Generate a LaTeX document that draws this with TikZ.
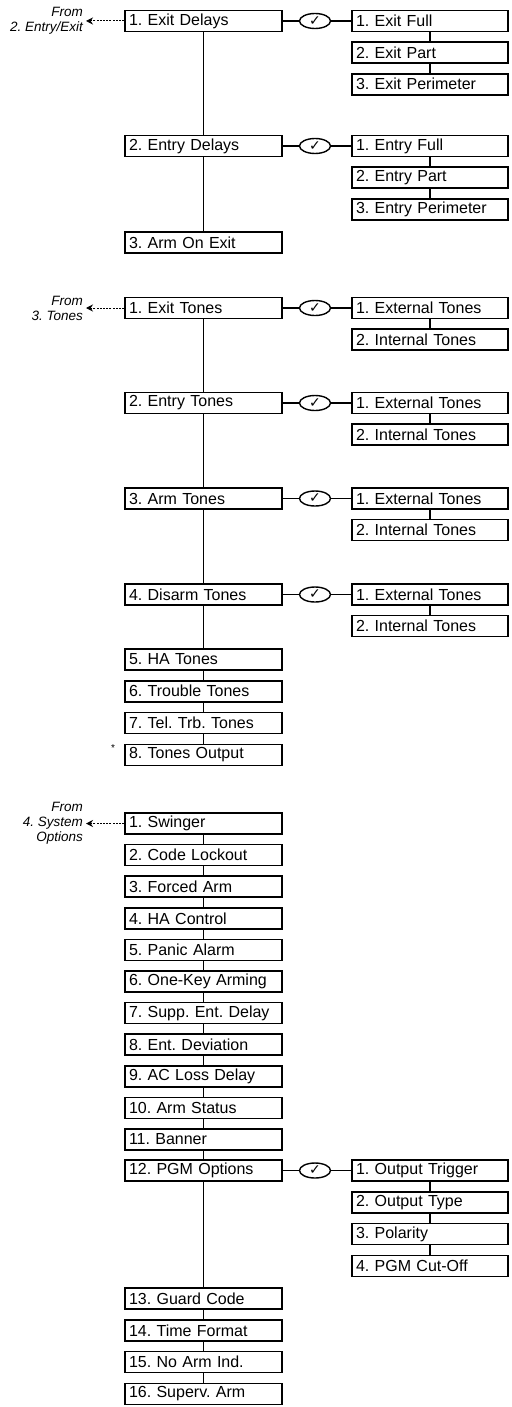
\documentclass[tikz,border=0pt]{standalone}
\usepackage{fontspec}
\setmainfont{Liberation Sans}
\newfontfamily\tickfont{DejaVu Sans}
\usetikzlibrary{arrows.meta,shapes.geometric}
\frenchspacing
\begin{document}
\begin{tikzpicture}[x=1pt,y=-1pt,line cap=butt,line join=miter,
  mainbox/.style={draw,line width=1.7pt,fill=white,minimum height=21pt,text width=149pt,
    inner xsep=4pt,inner ysep=0pt,align=left,font=\fontsize{16}{17}\selectfont},
  subbox/.style={mainbox,text width=148pt},
  tick/.style={draw,ellipse,line width=1.4pt,minimum width=31pt,minimum height=15pt,
    inner sep=0pt,font=\tickfont\fontsize{14}{14}\selectfont},
  link/.style={line width=1.6pt},
  fromlbl/.style={align=right,inner xsep=3pt,inner ysep=0pt,font=\itshape\fontsize{13.5}{15}\selectfont},
  backarrow/.style={line width=1pt,dash pattern=on 2pt off 1.2pt,-{Stealth[length=7pt,width=7pt]}}]
  \useasboundingbox (0,0) rectangle (511,1407);

  % --- entry/exit delays
  \node[mainbox] (exitdly) at (203.5,21) {1. Exit Delays};
  \node[mainbox] (entrydly) at (203.5,146) {2. Entry Delays};
  \node[mainbox] (armexit) at (203.5,242.5) {3. Arm On Exit};
  \node[tick] (tickA) at (315,21) {✓};
  \node[tick] (tickB) at (315,146) {✓};
  \node[subbox] (exfull) at (430,21) {1. Exit Full};
  \node[subbox] (expart) at (430,52.6) {2. Exit Part};
  \node[subbox] (experim) at (430,84.2) {3. Exit Perimeter};
  \node[subbox] (enfull) at (430,146) {1. Entry Full};
  \node[subbox] (enpart) at (430,177.6) {2. Entry Part};
  \node[subbox] (enperim) at (430,209.2) {3. Entry Perimeter};
  \node[fromlbl,anchor=east] (fromA) at (86,21) {From\\2. Entry/Exit};

  % --- tones
  \node[mainbox] (exitton) at (203.5,308) {1. Exit Tones};
  \node[mainbox] (entryton) at (203.5,403) {2. Entry Tones};
  \node[mainbox] (armton) at (203.5,498.5) {3. Arm Tones};
  \node[mainbox] (disarmton) at (203.5,594.5) {4. Disarm Tones};
  \node[mainbox] (haton) at (203.5,659.5) {5. HA Tones};
  \node[mainbox] (trbton) at (203.5,691.2) {6. Trouble Tones};
  \node[mainbox] (telton) at (203.5,723) {7. Tel. Trb. Tones};
  \node[mainbox] (tonesout) at (203.5,755) {8. Tones Output};
  \node[font=\fontsize{10}{10}\selectfont] (star) at (113,748) {*};
  \node[tick] (tickC) at (315,308) {✓};
  \node[tick] (tickD) at (315,403) {✓};
  \node[tick] (tickE) at (315,498.5) {✓};
  \node[tick] (tickF) at (315,594.5) {✓};
  \node[subbox] (exext) at (430,308) {1. External Tones};
  \node[subbox] (exint) at (430,339.6) {2. Internal Tones};
  \node[subbox] (enext) at (430,403) {1. External Tones};
  \node[subbox] (enint) at (430,434.6) {2. Internal Tones};
  \node[subbox] (arext) at (430,498.5) {1. External Tones};
  \node[subbox] (arint) at (430,530.1) {2. Internal Tones};
  \node[subbox] (diext) at (430,594.5) {1. External Tones};
  \node[subbox] (diint) at (430,626.1) {2. Internal Tones};
  \node[fromlbl,anchor=east] (fromB) at (86,308) {From\\3. Tones};

  % --- system options
  \node[mainbox] (swinger) at (203.5,823.5) {1. Swinger};
  \node[mainbox] (lockout) at (203.5,855.1) {2. Code Lockout};
  \node[mainbox] (forced) at (203.5,886.7) {3. Forced Arm};
  \node[mainbox] (hactl) at (203.5,918.3) {4. HA Control};
  \node[mainbox] (panic) at (203.5,949.9) {5. Panic Alarm};
  \node[mainbox] (onekey) at (203.5,981.5) {6. One-Key Arming};
  \node[mainbox] (suppent) at (203.5,1013.1) {7. Supp. Ent. Delay};
  \node[mainbox] (entdev) at (203.5,1044.7) {8. Ent. Deviation};
  \node[mainbox] (acloss) at (203.5,1076.3) {9. AC Loss Delay};
  \node[mainbox] (armstat) at (203.5,1107.9) {10. Arm Status};
  \node[mainbox] (banner) at (203.5,1139.5) {11. Banner};
  \node[mainbox] (pgmopt) at (203.5,1170.5) {12. PGM Options};
  \node[mainbox] (guard) at (203.5,1298.5) {13. Guard Code};
  \node[mainbox] (timefmt) at (203.5,1330.3) {14. Time Format};
  \node[mainbox] (noarm) at (203.5,1362.1) {15. No Arm Ind.};
  \node[mainbox] (superv) at (203.5,1394) {16. Superv. Arm};
  \node[tick] (tickG) at (315,1170.5) {✓};
  \node[subbox] (pgmtrig) at (430,1170.5) {1. Output Trigger};
  \node[subbox] (pgmtype) at (430,1202.3) {2. Output Type};
  \node[subbox] (pgmpol) at (430,1234.1) {3. Polarity};
  \node[subbox] (pgmcut) at (430,1265.9) {4. PGM Cut-Off};
  \node[fromlbl,anchor=east] (fromC) at (86,823.5) {From\\4. System\\Options};

  % back arrows
  \draw[backarrow] (exitdly.west) -- (fromA.east);
  \draw[backarrow] (exitton.west) -- (fromB.east);
  \draw[backarrow] (swinger.west) -- (fromC.east);

  % trunks
  \foreach \a/\b in {exitdly/entrydly,entrydly/armexit,exfull/expart,expart/experim,
      enfull/enpart,enpart/enperim,
      exitton/entryton,entryton/armton,armton/disarmton,disarmton/haton,haton/trbton,
      trbton/telton,telton/tonesout,exext/exint,enext/enint,arext/arint,diext/diint,
      swinger/lockout,lockout/forced,forced/hactl,hactl/panic,panic/onekey,onekey/suppent,
      suppent/entdev,entdev/acloss,acloss/armstat,armstat/banner,banner/pgmopt,pgmopt/guard,
      guard/timefmt,timefmt/noarm,noarm/superv,pgmtrig/pgmtype,pgmtype/pgmpol,pgmpol/pgmcut}
    \draw[link] (\a.south) -- (\b.north);

  % option branches
  \foreach \m/\t/\s in {exitdly/tickA/exfull,entrydly/tickB/enfull,exitton/tickC/exext,
      entryton/tickD/enext,armton/tickE/arext,disarmton/tickF/diext,pgmopt/tickG/pgmtrig}
    \draw[link] (\m.east) -- (\t.west) (\t.east) -- (\s.west);
\end{tikzpicture}
\end{document}
